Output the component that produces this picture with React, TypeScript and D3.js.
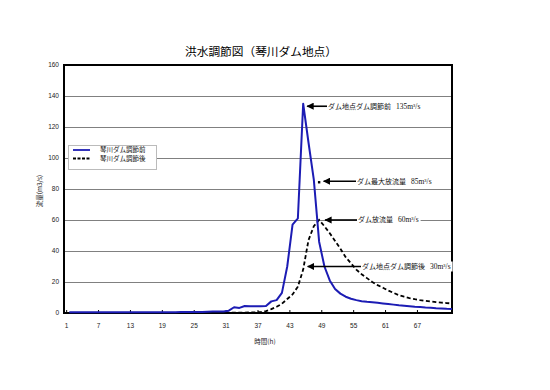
import * as d3 from "d3";

// hourly categories on the x axis
const hours = d3.range(1, 74);
const xTickLabels = [1, 7, 13, 19, 25, 31, 37, 43, 49, 55, 61, 67];
const yTicks = [0, 20, 40, 60, 80, 100, 120, 140, 160];

// 琴川ダム調節前 (inflow before regulation), m3/s
const beforeFlow = [
  0.5, 0.5, 0.5, 0.5, 0.5, 0.5, 0.5, 0.5, 0.5, 0.5,
  0.5, 0.5, 0.5, 0.5, 0.5, 0.5, 0.5, 0.5, 0.5, 0.5,
  0.5, 0.6, 0.6, 0.6, 0.7, 0.7, 0.8, 0.9, 1.0, 1.0,
  1.5, 3.7, 3.3, 4.5, 4.4, 4.3, 4.3, 4.5, 7.5, 8.3,
  13, 30, 57, 61, 135, 110, 86, 46, 30, 21,
  15.5, 12.5, 10.5, 9.2, 8.3, 7.6, 7.2, 6.9, 6.6, 6.2,
  5.8, 5.4, 5.0, 4.7, 4.4, 4.1, 3.9, 3.6, 3.4, 3.1,
  2.9, 2.7, 2.6,
];

// 琴川ダム調節後 (after regulation), m3/s
const afterFlow = [
  0, 0, 0, 0, 0, 0, 0, 0, 0, 0,
  0, 0, 0, 0, 0, 0, 0, 0, 0, 0,
  0, 0, 0, 0, 0, 0, 0, 0, 0.1, 0.2,
  0.3, 0.3, 0.3, 0.3, 0.4, 0.4, 0.6, 1.2, 2.5, 4,
  6, 9, 12, 17, 28, 47, 56, 60, 56, 51.5,
  46.5, 41.5, 36, 32, 28, 25, 22.5, 20, 18, 16.3,
  14.5, 13, 11.5, 10.5, 9.6, 8.9, 8.3, 7.8, 7.4, 7.0,
  6.7, 6.4, 6.2,
];

const seriesNames = ["琴川ダム調節前", "琴川ダム調節後"];

// annotations
const noteLabels = ["ダム地点ダム調節前", "ダム最大放流量", "ダム放流量", "ダム地点ダム調節後"];
const noteValues = ["135", "85", "60", "30"];
const noteFlows = [135, 85, 60, 30];
const noteHours = [45, 48, 48, 45];

const JP = "'Noto Sans CJK JP', 'Noto Sans', sans-serif";

export default function App() {
  const W = 550, H = 390;
  const left = 64, right = 452, top = 65, bottom = 313;

  // each hour is a band: labels sit at its centre, the flow is read at its end
  const xBand = d3.scaleBand<number>().domain(hours).range([left, right]).padding(0);
  const xLabel = (h: number) => (xBand(h) ?? 0) + xBand.bandwidth() / 2;
  const xPt = (h: number) => (xBand(h) ?? 0) + xBand.bandwidth();
  const y = d3.scaleLinear().domain([0, 160]).range([bottom, top]);

  const line = d3.line<number>().x((_, i) => xPt(hours[i])).y((d) => y(d));

  // annotation layout (px)
  const tipDx = [3, 3.5, 5, 3.5];
  const tipDy = [2.5, 0, 0, 0];
  const textX = [328, 357, 358, 362];
  const fs = 7;

  return (
    <svg width={W} height={H} style={{ position: "absolute", left: 0, top: 0, background: "#fff" }}>
      <defs>
        <marker id="arr" viewBox="0 0 10 10" refX="9" refY="5" markerWidth="4.5" markerHeight="4.5" orient="auto">
          <path d="M0,0 L10,5 L0,10 z" fill="#000" />
        </marker>
      </defs>

      <text x={261} y={56} textAnchor="middle" fontFamily={JP} fontSize={11.7} fill="#000">
        洪水調節図（琴川ダム地点）
      </text>

      {/* gridlines */}
      {yTicks.slice(1, -1).map((t) => (
        <line key={t} x1={left} x2={right} y1={Math.round(y(t)) + 0.5} y2={Math.round(y(t)) + 0.5} stroke="#808080" strokeWidth={1} />
      ))}

      {/* y tick labels */}
      {yTicks.map((t) => (
        <text key={t} x={59} y={y(t)} dy="0.35em" textAnchor="end" fontFamily="'Liberation Sans', sans-serif" fontSize={6.5} fill="#222">
          {t}
        </text>
      ))}

      {/* x ticks + labels */}
      {xTickLabels.map((h) => (
        <g key={h}>
          <line x1={xLabel(h)} x2={xLabel(h)} y1={bottom} y2={bottom - 3} stroke="#000" strokeWidth={1} />
          <text x={xLabel(h)} y={328} textAnchor="middle" fontFamily="'Liberation Sans', sans-serif" fontSize={6.5} fill="#222">
            {h}
          </text>
        </g>
      ))}

      <text x={265} y={344} textAnchor="middle" fontFamily={JP} fontSize={6.5} fill="#222">時間(h)</text>
      <text transform={`translate(42,${(top + bottom) / 2 + 2}) rotate(-90)`} textAnchor="middle" fontFamily={JP} fontSize={6.5} fill="#222">
        流量(m3/s)
      </text>

      {/* plot frame */}
      <rect x={left} y={top} width={right - left} height={bottom - top} fill="none" stroke="#000" strokeWidth={2} />

      {/* series */}
      <path d={line(afterFlow) ?? ""} fill="none" stroke="#000" strokeWidth={1.8} strokeDasharray="4,2.5" />
      <path d={line(beforeFlow) ?? ""} fill="none" stroke="#1c1cb4" strokeWidth={2} strokeLinejoin="round" />

      {/* annotations */}
      {noteLabels.map((lab, i) => {
        const tx = xPt(noteHours[i]) + tipDx[i];
        const ty = y(noteFlows[i]) + tipDy[i];
        const w = lab.length * fs + 5 + noteValues[i].length * 3.8 + 14;
        return (
          <g key={lab}>
            {i === 1 && <rect x={xPt(noteHours[i]) - 1.2} y={y(noteFlows[i]) - 0.2} width={2.4} height={2.4} fill="#000" />}
            <rect x={textX[i] - 1} y={ty - 5} width={w + 2} height={10} fill="#fff" />
            <line x1={textX[i] - 1} x2={tx + 1} y1={ty} y2={ty} stroke="#000" strokeWidth={1.6} markerEnd="url(#arr)" />
            <text x={textX[i]} y={ty} dy="0.35em" fontFamily={JP} fontSize={fs} fill="#111">
              {lab}
              <tspan dx={5} fontFamily="'Liberation Serif', serif" fontSize={7.5}>{noteValues[i]}m³/s</tspan>
            </text>
          </g>
        );
      })}

      {/* legend */}
      <rect x={68.5} y={145.5} width={88} height={24} fill="#fff" stroke="#bbb" strokeWidth={1} />
      {seriesNames.map((name, i) => (
        <g key={name}>
          <line x1={73} x2={90} y1={150 + i * 8.5} y2={150 + i * 8.5} stroke={i === 0 ? "#1c1cb4" : "#000"} strokeWidth={1.8} strokeDasharray={i === 0 ? undefined : "3,1.5"} />
          <text x={100} y={150 + i * 8.5} dy="0.35em" fontFamily={JP} fontSize={6.5} fill="#111">{name}</text>
        </g>
      ))}
    </svg>
  );
}
